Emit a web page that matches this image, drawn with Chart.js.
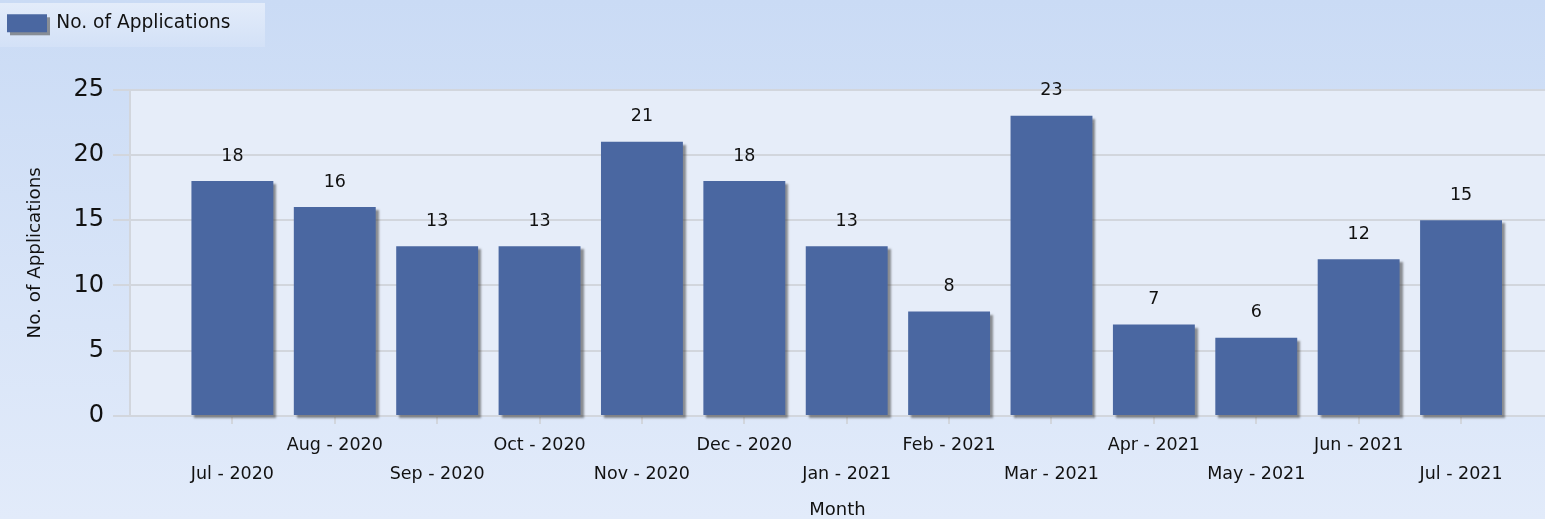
<!DOCTYPE html>
<html lang="en">
<head>
  <meta charset="UTF-8" />
  <title>No. of Applications by Month</title>
  <style>
    html, body { margin: 0; padding: 0; background: #d6e3f7; }
    #chartBox { width: 1545px; height: 519px; }
  </style>
</head>
<body>
  <div id="chartBox"><canvas id="appsChart" width="1545" height="519"></canvas></div>

  <script src="https://cdn.jsdelivr.net/npm/chart.js"></script>
  <script>
    const months = ['Jul - 2020', 'Aug - 2020', 'Sep - 2020', 'Oct - 2020', 'Nov - 2020', 'Dec - 2020',
                    'Jan - 2021', 'Feb - 2021', 'Mar - 2021', 'Apr - 2021', 'May - 2021', 'Jun - 2021', 'Jul - 2021'];
    const applications = [18, 16, 13, 13, 21, 18, 13, 8, 23, 7, 6, 12, 15];
    const yTicks = [0, 5, 10, 15, 20, 25];

    const FONT = 'DejaVu Sans';
    const GRID = '#d2d6dd';

    // background gradient, legend panel, plot area fill
    const backdrop = {
      id: 'backdrop',
      beforeLayout(chart) {
        const lg = chart.legend;
        if (lg && !lg._spaced) {
          const fit = lg.fit;
          lg.fit = function () { fit.call(this); this.height += 47; };
          lg._spaced = true;
        }
      },
      beforeDraw(chart) {
        const { ctx, width, height, chartArea: a } = chart;
        ctx.save();
        const g = ctx.createLinearGradient(0, 0, 0, height);
        g.addColorStop(0, '#cadbf5');
        g.addColorStop(1, '#e2ebfa');
        ctx.fillStyle = g;
        ctx.fillRect(0, 0, width, height);

        const lg2 = ctx.createLinearGradient(0, 3, 0, 47);
        lg2.addColorStop(0, '#e3ecfa');
        lg2.addColorStop(1, '#d3e1f7');
        ctx.fillStyle = lg2;
        ctx.fillRect(0, 3, 265, 44);

        ctx.fillStyle = '#e6edf9';
        ctx.fillRect(a.left, a.top, a.right - a.left, a.bottom - a.top);

        // legend swatch shadow
        const hb = chart.legend && chart.legend.legendHitBoxes && chart.legend.legendHitBoxes[0];
        if (hb) {
          const bw = chart.legend.options.labels.boxWidth;
          const bh = chart.legend.options.labels.boxHeight;
          ctx.fillStyle = 'rgba(70,70,70,0.55)';
          ctx.fillRect(hb.left + 3, hb.top + (hb.height - bh) / 2 + 3, bw, bh);
        }
        ctx.restore();
      },
      beforeDatasetsDraw(chart) {
        const ctx = chart.ctx;
        ctx.save();
        ctx.shadowColor = 'rgba(60,60,60,0.55)';
        ctx.shadowOffsetX = 3;
        ctx.shadowOffsetY = 3;
        ctx.shadowBlur = 2;
      },
      afterDatasetsDraw(chart) {
        const ctx = chart.ctx;
        ctx.restore();
        ctx.save();
        ctx.font = '17.5px "' + FONT + '"';
        ctx.fillStyle = '#111';
        ctx.textAlign = 'center';
        ctx.textBaseline = 'middle';
        const meta = chart.getDatasetMeta(0);
        meta.data.forEach((bar, i) => {
          ctx.fillText(String(applications[i]), bar.x, bar.y - 25);
        });
        ctx.restore();
      }
    };

    const points = applications.map((v, i) => ({ x: i, y: v }));

    new Chart(document.getElementById('appsChart'), {
      type: 'bar',
      data: {
        datasets: [{
          label: 'No. of Applications',
          data: points,
          backgroundColor: '#4a67a1',
          borderWidth: 0,
          categoryPercentage: 0.8,
          barPercentage: 1,
          clip: false
        }]
      },
      options: {
        responsive: false,
        animation: false,
        layout: { padding: { top: 7, left: 0, right: 0, bottom: 0 } },
        plugins: {
          tooltip: { enabled: false },
          legend: {
            position: 'top',
            align: 'start',
            labels: {
              boxWidth: 40,
              boxHeight: 18,
              padding: 7,
              color: '#111',
              font: { family: FONT, size: 18.6 }
            }
          }
        },
        scales: {
          x: {
            type: 'linear',
            min: -1,
            max: 12.82,
            offset: false,
            afterBuildTicks(scale) {
              scale.ticks = months.map((_, i) => ({ value: i }));
            },
            afterFit(scale) { scale.height = 103; },
            grid: { offset: false, drawOnChartArea: false, drawTicks: true, tickLength: 8, color: GRID, lineWidth: 2 },
            border: { display: true, color: GRID, width: 2 },
            ticks: {
              autoSkip: false,
              maxRotation: 0,
              padding: 7,
              color: '#111',
              font: { family: FONT, size: 17.5, lineHeight: 1.66 },
              callback(value) {
                const label = months[value];
                return value % 2 === 0 ? ['', label] : [label, ''];
              }
            },
            title: {
              display: true,
              text: 'Month',
              color: '#111',
              font: { family: FONT, size: 18 },
              padding: { top: 0, bottom: -2 }
            }
          },
          y: {
            min: 0,
            max: 25,
            afterBuildTicks(scale) {
              scale.ticks = yTicks.map(v => ({ value: v }));
            },
            afterFit(scale) { scale.width = 130; },
            grid: { color: GRID, lineWidth: 2, tickLength: 17 },
            border: { display: true, color: GRID, width: 2 },
            ticks: {
              padding: 9,
              color: '#111',
              font: { family: FONT, size: 24 }
            },
            title: {
              display: true,
              text: 'No. of Applications',
              color: '#111',
              font: { family: FONT, size: 18.3 },
              padding: { top: 24, bottom: 0 }
            }
          }
        }
      },
      plugins: [backdrop]
    });
  </script>
</body>
</html>
